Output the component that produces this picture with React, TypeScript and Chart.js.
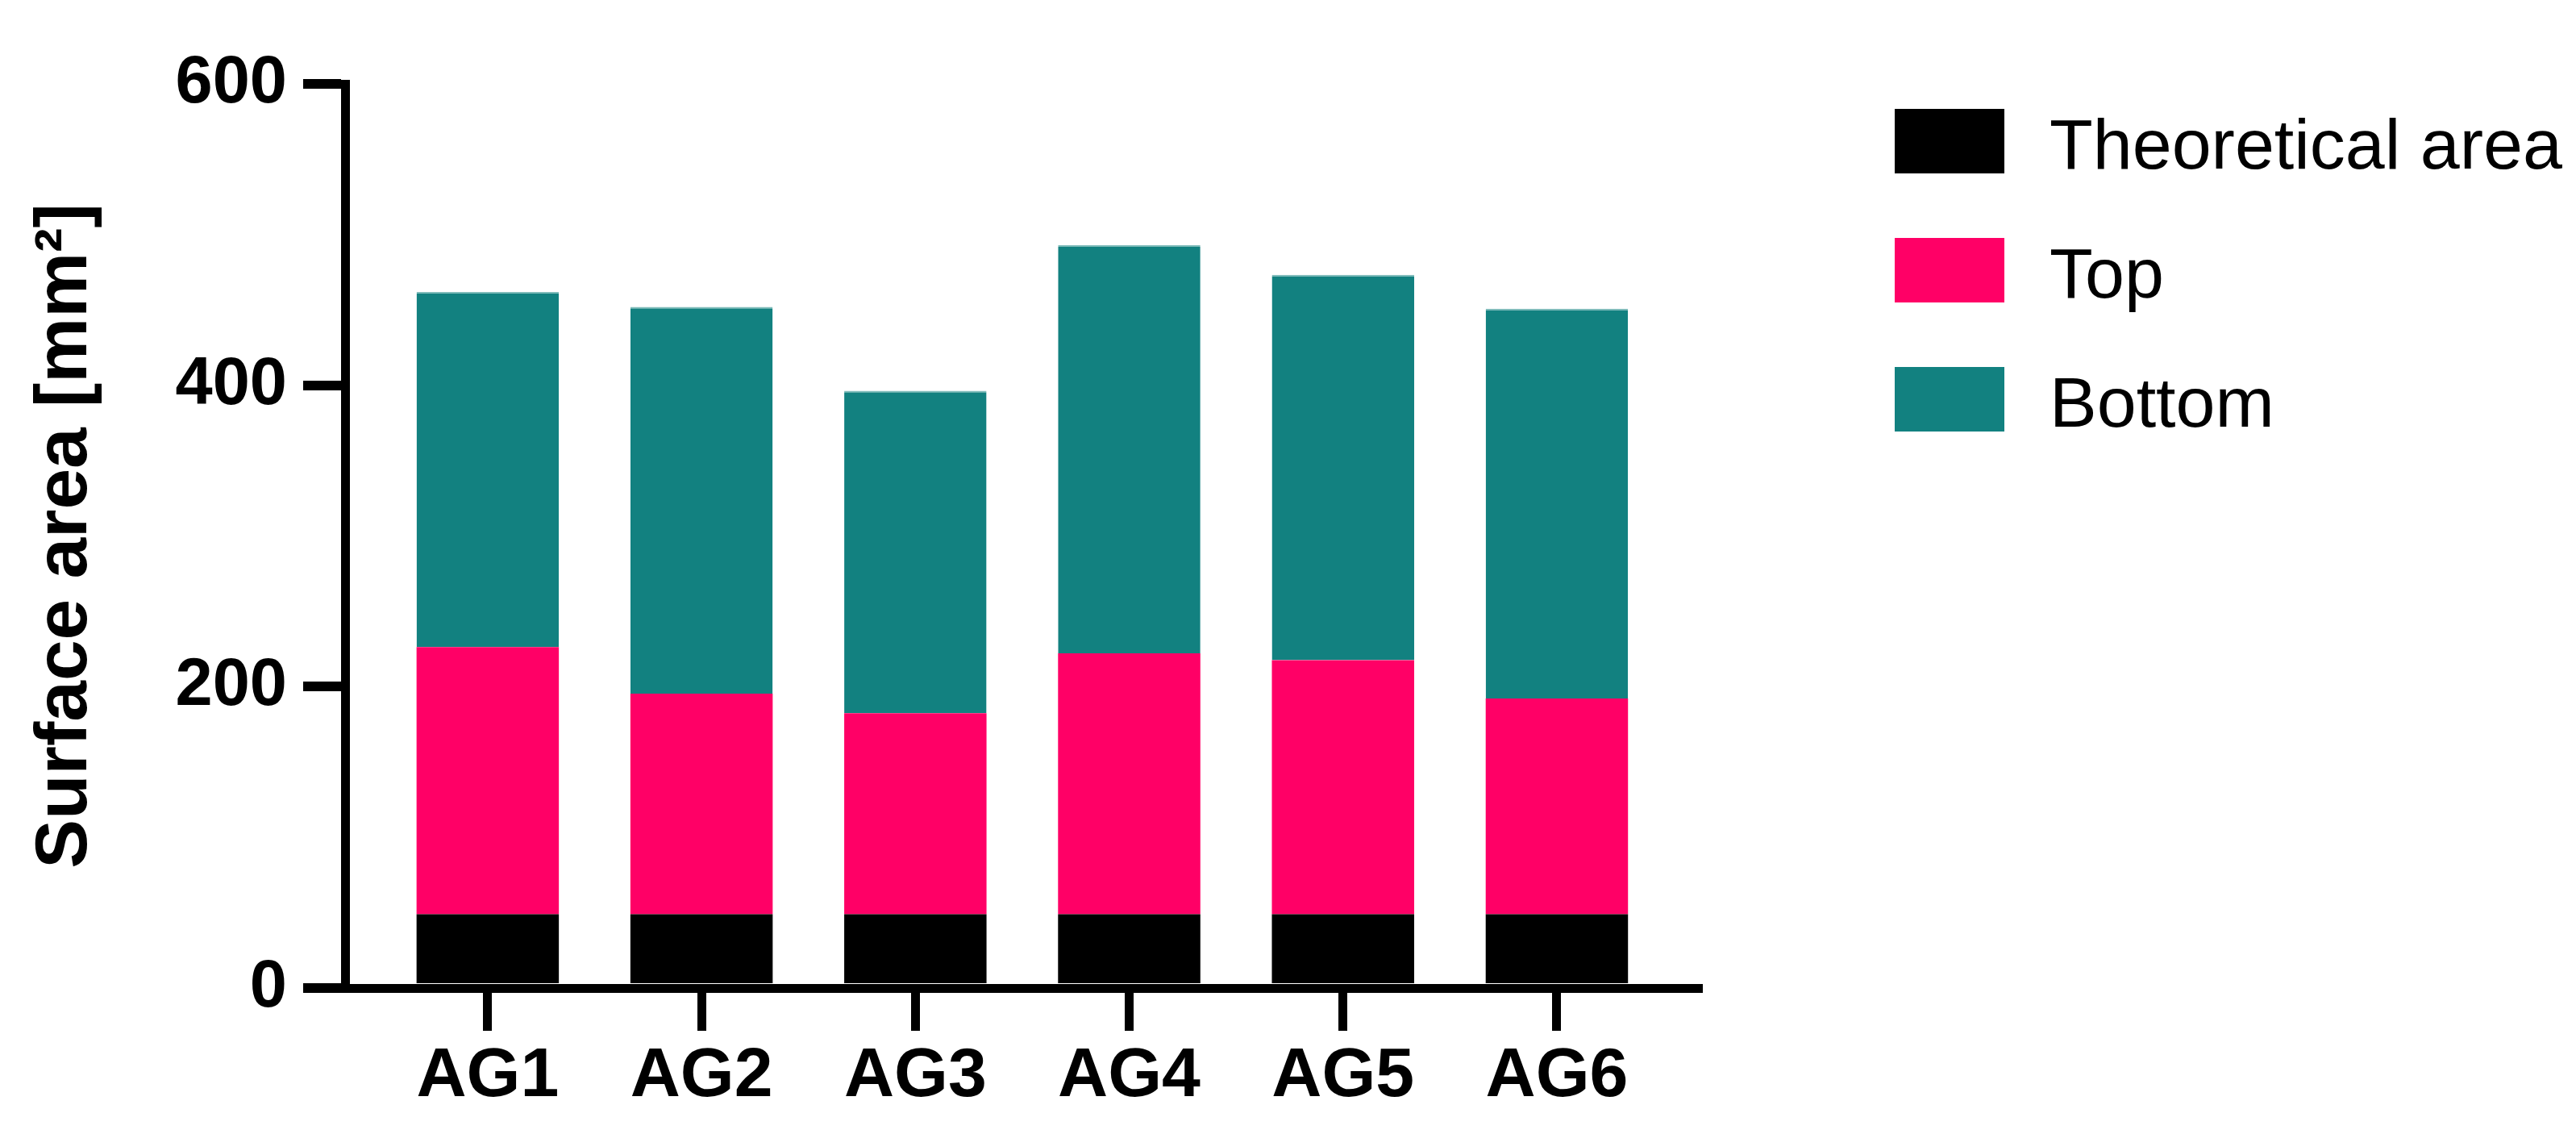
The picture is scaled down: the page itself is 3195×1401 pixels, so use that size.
import { useEffect, useRef } from "react";
import { Chart, registerables } from "chart.js";

Chart.register(...registerables);

const categories = ["AG1", "AG2", "AG3", "AG4", "AG5", "AG6"];
const theoreticalArea = [49, 49, 49, 49, 49, 49];
const topArea = [177.3, 146.4, 133.4, 173.1, 168.6, 143.1];
const bottomArea = [235.6, 256.6, 213.9, 270.9, 255.7, 258.7];
const seriesNames = ["Theoretical area", "Top", "Bottom"];
const seriesColors = ["#000000", "#FF0066", "#128180"];
const yTickValues = [0, 200, 400, 600];
const yTitle = "Surface area [mm\u00B2]";

const W = 3195;
const H = 1401;

const legendPlugin = {
  id: "customLegend",
  afterDraw(chart: any) {
    const ctx = chart.ctx;
    ctx.save();
    chart.data.datasets.forEach((ds: any, i: number) => {
      const top = 135 + i * 160;
      ctx.fillStyle = ds.backgroundColor;
      ctx.fillRect(2350, top, 136, 80);
      ctx.fillStyle = "#000000";
      ctx.font = "88px 'Liberation Sans', Arial, sans-serif";
      ctx.textBaseline = "alphabetic";
      ctx.textAlign = "left";
      ctx.fillText(ds.label, 2542, top + 74);
    });
    ctx.restore();
  },
};

export default function App() {
  const ref = useRef<HTMLCanvasElement | null>(null);

  useEffect(() => {
    if (!ref.current) return;
    const series = [theoreticalArea, topArea, bottomArea];
    const datasets = series.map((vals, si) => ({
      label: seriesNames[si],
      data: vals.map((v, i) => ({ x: i, y: v })),
      backgroundColor: seriesColors[si],
      borderWidth: si === 2 ? { top: 2, left: 0, right: 0, bottom: 0 } : 0,
      borderColor: si === 2 ? "#7fbcba" : seriesColors[si],
      borderSkipped: "bottom",
      categoryPercentage: 0.6655,
      barPercentage: 1,
    }));

    const chart = new Chart(ref.current, {
      type: "bar",
      data: { datasets } as any,
      plugins: [legendPlugin],
      options: {
        animation: false,
        responsive: false,
        devicePixelRatio: 1,
        layout: { padding: { left: 0, top: 104, right: W - 2106, bottom: 0 } },
        plugins: {
          legend: { display: false },
          tooltip: { enabled: false },
        },
        scales: {
          x: {
            type: "linear",
            stacked: true,
            offset: false,
            min: -0.667,
            max: 5.66,
            afterBuildTicks: (scale: any) => {
              scale.ticks = categories.map((_, i) => ({ value: i }));
            },
            afterFit: (scale: any) => {
              scale.height = H - 1225;
            },
            grid: {
              display: true,
              drawOnChartArea: false,
              drawTicks: true,
              tickLength: 53,
              lineWidth: 11,
              tickWidth: 11,
              color: "#000000",
              offset: false,
            },
            border: { display: true, color: "#000000", width: 11 },
            ticks: {
              autoSkip: false,
              maxRotation: 0,
              padding: 6,
              color: "#000000",
              font: {
                family: "'Liberation Sans', Arial, sans-serif",
                size: 86,
                weight: "bold",
              },
              callback: (v: any) => categories[Math.round(Number(v))] ?? "",
            },
          },
          y: {
            type: "linear",
            stacked: true,
            min: 0,
            max: 600,
            afterBuildTicks: (scale: any) => {
              scale.ticks = yTickValues.map((v) => ({ value: v }));
            },
            afterFit: (scale: any) => {
              scale.width = 428;
            },
            grid: {
              display: true,
              drawOnChartArea: false,
              drawTicks: true,
              tickLength: 52,
              lineWidth: 12,
              tickWidth: 12,
              color: "#000000",
            },
            border: { display: true, color: "#000000", width: 11 },
            ticks: {
              padding: 20,
              color: "#000000",
              font: {
                family: "'Liberation Sans', Arial, sans-serif",
                size: 83,
                weight: "bold",
              },
            },
            title: {
              display: true,
              text: yTitle,
              color: "#000000",
              padding: { top: 27, bottom: 0 },
              font: {
                family: "'Liberation Sans', Arial, sans-serif",
                size: 91,
                weight: "bold",
              },
            },
          },
        },
      } as any,
    });
    return () => chart.destroy();
  }, []);

  return (
    <div style={{ position: "absolute", left: 0, top: 0, width: W, height: H, background: "#ffffff" }}>
      <canvas ref={ref} width={W} height={H} style={{ width: W, height: H, display: "block" }} />
    </div>
  );
}
